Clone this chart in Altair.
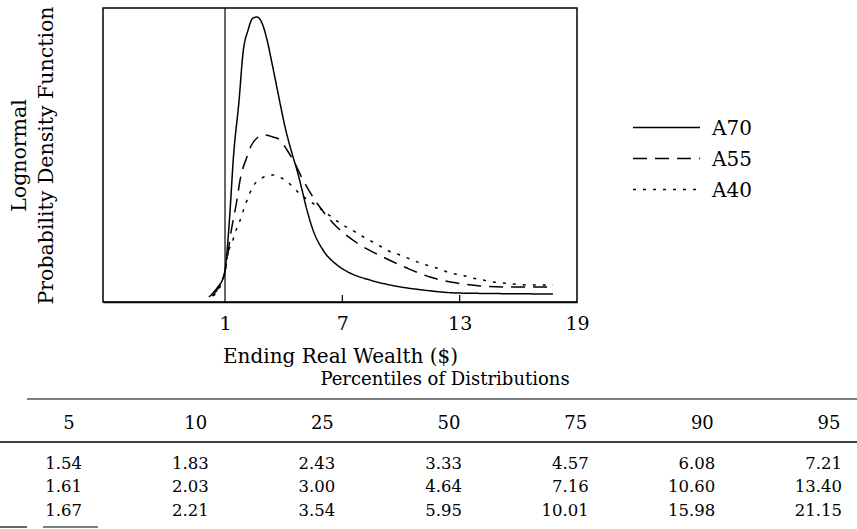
import altair as alt
import pandas as pd

# ---------------- data ----------------
series = ["A70", "A55", "A40"]

a70_wealth = [0.18, 0.59, 0.90, 1.00, 1.13, 1.26, 1.42, 1.72, 1.92, 2.18, 2.43, 2.64,
              2.89, 3.15, 3.40, 3.71, 4.07, 4.48, 4.68, 4.94, 5.19, 5.50, 6.01, 6.73,
              7.39, 8.41, 9.44, 11.12, 12.86, 14.55, 17.77]
a70_density = [0.005, 0.014, 0.024, 0.031, 0.057, 0.092, 0.142, 0.202, 0.249, 0.272, 0.284, 0.285,
               0.279, 0.262, 0.239, 0.209, 0.175, 0.145, 0.132, 0.112, 0.092, 0.072, 0.052, 0.037,
               0.029, 0.022, 0.017, 0.012, 0.009, 0.0085, 0.008]

a55_wealth = [0.34, 0.69, 1.00, 1.15, 1.26, 1.61, 1.77, 2.12, 2.33, 2.64, 3.04, 3.45,
              3.81, 4.17, 4.48, 4.99, 5.70, 6.52, 7.75, 9.08, 10.30, 11.48, 12.86,
              14.04, 15.42, 17.77]
a55_density = [0.006, 0.015, 0.031, 0.048, 0.064, 0.102, 0.122, 0.145, 0.156, 0.164, 0.167, 0.165,
               0.162, 0.152, 0.142, 0.122, 0.099, 0.079, 0.059, 0.045, 0.034, 0.025, 0.019,
               0.016, 0.015, 0.015]

a40_wealth = [0.39, 0.74, 1.00, 1.15, 1.36, 1.51, 1.72, 2.07, 2.48, 2.89, 3.45, 3.97,
              4.37, 4.78, 5.24, 5.70, 6.11, 6.52, 7.03, 7.49, 8.00, 8.46, 8.92, 9.38,
              9.95, 10.46, 10.97, 11.48, 11.99, 12.50, 13.12, 13.63, 14.19, 14.70,
              15.21, 15.72, 16.44, 17.77]
a40_density = [0.006, 0.015, 0.031, 0.049, 0.059, 0.069, 0.079, 0.099, 0.117, 0.124, 0.127, 0.123,
               0.117, 0.109, 0.102, 0.096, 0.090, 0.084, 0.077, 0.072, 0.066, 0.061, 0.056, 0.051,
               0.047, 0.043, 0.039, 0.036, 0.033, 0.029, 0.027, 0.024, 0.022, 0.020,
               0.019, 0.018, 0.017, 0.017]

x_tick_values = [1, 7, 13, 19]
breakeven = [1]
inner_ticks = [7, 13]

percentiles = ["5", "10", "25", "50", "75", "90", "95"]
a70_pct = ["1.54", "1.83", "2.43", "3.33", "4.57", "6.08", "7.21"]
a55_pct = ["1.61", "2.03", "3.00", "4.64", "7.16", "10.60", "13.40"]
a40_pct = ["1.67", "2.21", "3.54", "5.95", "10.01", "15.98", "21.15"]

table_title = ["Percentiles of Distributions"]

# ---------------- tables built from the lists ----------------
FONT = "DejaVu Serif"
W, H = 474, 294

curve_rows = []
for name, xs, ys in [("A70", a70_wealth, a70_density),
                     ("A55", a55_wealth, a55_density),
                     ("A40", a40_wealth, a40_density)]:
    for xv, yv in zip(xs, ys):
        curve_rows.append({"series": name, "wealth": xv, "density": yv})
curves = pd.DataFrame(curve_rows)

pct_rows = []
for name, vals in [("A70", a70_pct), ("A55", a55_pct), ("A40", a40_pct)]:
    for p, v in zip(percentiles, vals):
        pct_rows.append({"series": name, "pct": p, "value": v})
pct_df = pd.DataFrame(pct_rows)
hdr_df = pd.DataFrame({"pct": percentiles})
series_df = pd.DataFrame({"series": series})

dash_range = [[1, 0], [14, 8], [3, 7]]
width_range = [1.5, 1.5, 3.0]

# ---------------- plot ----------------
xscale = alt.Scale(domain=[-5.24, 19.0], nice=False, zero=False)
yscale = alt.Scale(domain=[0, 0.294], nice=False, zero=True)

lines = alt.Chart(curves).mark_line(color="black", interpolate="monotone").encode(
    x=alt.X("wealth:Q", scale=xscale,
            axis=alt.Axis(values=x_tick_values, format="d", labelFontSize=19,
                          labelPadding=12, ticks=False, tickSize=0, domain=True,
                          domainColor="black", domainWidth=1.5, grid=False,
                          labelFlush=False, labelOverlap=False, labelColor="black",
                          title="Ending Real Wealth ($)", titleFontSize=20,
                          titleFontWeight="normal", titleY=44, titleBaseline="top",
                          titleColor="black")),
    y=alt.Y("density:Q", scale=yscale,
            axis=alt.Axis(title=["Lognormal", "Probability Density Function"],
                          labels=False, ticks=False, domain=False, grid=False,
                          titleFontSize=20.5, titleFontWeight="normal",
                          titleLineHeight=27, titlePadding=47, titleColor="black")),
    strokeDash=alt.StrokeDash("series:N", scale=alt.Scale(domain=series, range=dash_range),
                              legend=None),
    strokeWidth=alt.StrokeWidth("series:O", scale=alt.Scale(domain=series, range=width_range),
                                legend=None),
)

vline = alt.Chart(pd.DataFrame({"wealth": breakeven})).mark_rule(
    color="black", strokeWidth=1.2).encode(x=alt.X("wealth:Q", scale=xscale))

ticks = alt.Chart(pd.DataFrame({"wealth": inner_ticks})).mark_rule(
    color="black", strokeWidth=1.2).encode(
    x=alt.X("wealth:Q", scale=xscale), y=alt.value(H), y2=alt.value(H - 7))

plot = alt.layer(lines, vline, ticks)

# ---------------- legend ----------------
leg_lines = alt.Chart(series_df).mark_rule(color="black").encode(
    x=alt.value(530), x2=alt.value(597),
    y=alt.Y("series:N", scale=alt.Scale(type="point", domain=series, range=[119.5, 181.5],
                                        padding=0), axis=None),
    strokeDash=alt.StrokeDash("series:N", scale=alt.Scale(domain=series, range=dash_range),
                              legend=None),
    strokeWidth=alt.StrokeWidth("series:O", scale=alt.Scale(domain=series, range=width_range),
                                legend=None),
)
leg_text = alt.Chart(series_df).mark_text(
    align="left", baseline="middle", font=FONT, fontSize=20, color="black").encode(
    x=alt.value(609),
    y=alt.Y("series:N", scale=alt.Scale(type="point", domain=series, range=[120.5, 182.5],
                                        padding=0), axis=None),
    text="series:N",
)

# ---------------- table ----------------
col_scale = alt.Scale(type="point", domain=percentiles, range=[-21, 739], padding=0)

title_txt = alt.Chart(pd.DataFrame({"t": table_title})).mark_text(
    align="center", baseline="alphabetic", font=FONT, fontSize=18, color="black").encode(
    x=alt.value(342), y=alt.value(377), text="t:N")

hdr = alt.Chart(hdr_df).mark_text(
    align="center", baseline="middle", dx=-13, font=FONT, fontSize=18, color="black").encode(
    x=alt.X("pct:N", scale=col_scale, axis=None), y=alt.value(416), text="pct:N")

vals = alt.Chart(pct_df).mark_text(
    align="right", baseline="middle", font=FONT, fontSize=16.5, color="black").encode(
    x=alt.X("pct:N", scale=col_scale, axis=None),
    y=alt.Y("series:N", scale=alt.Scale(type="point", domain=series, range=[455.5, 503],
                                        padding=0), axis=None),
    text="value:N")

def hrule(x1, x2, y, w):
    return alt.Chart(pd.DataFrame({"k": [0]})).mark_rule(color="black", strokeWidth=w).encode(
        x=alt.value(x1), x2=alt.value(x2), y=alt.value(y))

rule_top = hrule(-76, 754, 391, 1.2)
rule_mid = hrule(-103, 754, 434, 1.4)
rule_b1 = hrule(-103, -76, 519, 1.2)
rule_b2 = hrule(-60, -5, 519, 1.2)

chart = alt.layer(
    plot, leg_lines, leg_text, title_txt, hdr, vals, rule_top, rule_mid, rule_b1, rule_b2
).resolve_scale(
    x="independent", y="independent", strokeDash="independent", strokeWidth="independent"
).properties(
    width=W, height=H,
    autosize=alt.AutoSizeParams(type="none"),
    padding={"left": 103, "top": 8, "right": 280, "bottom": 227},
    background="white",
).configure_view(
    stroke="black", strokeWidth=1.5
).configure_axis(
    labelFont=FONT, titleFont=FONT
)

chart.save("out.html", embed_options={"renderer": "svg", "actions": False})
